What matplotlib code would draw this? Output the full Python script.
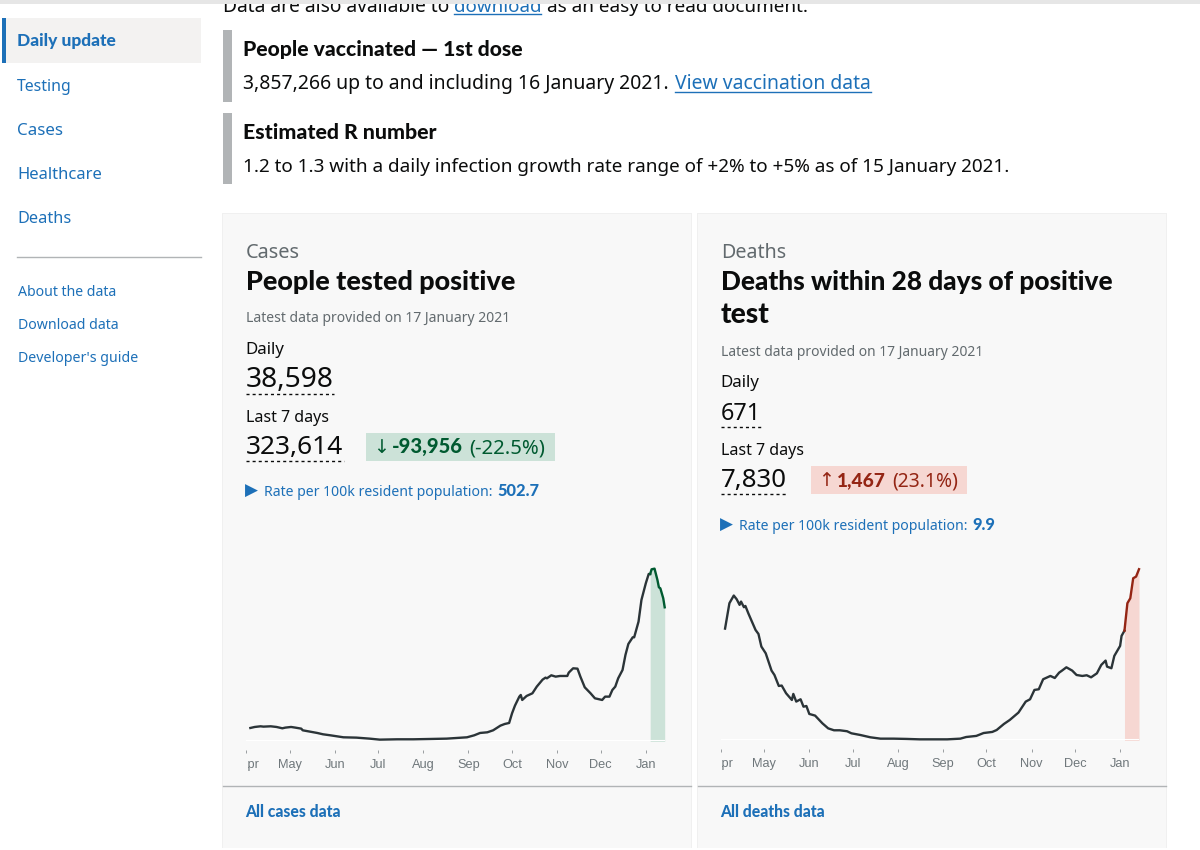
import matplotlib
matplotlib.use("Agg")
import matplotlib.pyplot as plt
from matplotlib.patches import Rectangle
from matplotlib.transforms import Bbox, ScaledTranslation

# --- data ---
month_labels = ["Apr", "May", "Jun", "Jul", "Aug", "Sep", "Oct", "Nov", "Dec", "Jan"]
month_days = [0, 30, 61, 91, 122, 153, 183, 214, 244, 275]

cases_days = [3, 6, 10, 12, 17, 21, 25, 27, 31, 34, 38, 39, 44, 49, 53, 58, 67, 76, 85, 92,
              104, 115, 127, 138, 152, 157, 161, 166, 170, 175, 178, 181, 183, 185, 188, 189,
              190, 193, 197, 200, 204, 206, 207, 210, 213, 216, 221, 222, 225, 228, 230, 233,
              237, 240, 243, 245, 247, 250, 252, 254, 256, 259, 261, 263, 266, 267, 270, 272,
              275, 277, 278, 279, 281, 283, 284, 285, 287, 288]
cases_vals = [4600, 4945, 5175, 5060, 5175, 4945, 4485, 4715, 4945, 4715, 4370, 3795, 3335, 2875,
              2415, 2070, 1380, 1265, 920, 575, 690, 690, 805, 920, 1380, 2070, 2875, 3105, 3795,
              5405, 5980, 6325, 9660, 12305, 15410, 15985, 14260, 15640, 16560, 18860, 21275,
              21965, 21735, 22770, 22310, 22540, 22540, 23690, 25185, 25070, 22310, 18630, 16560,
              14835, 14490, 14260, 15410, 15410, 17710, 18860, 21735, 24610, 29785, 33580, 35880,
              35880, 41285, 48760, 54510, 57730, 57730, 59340, 59570, 55660, 53130, 52785, 49335,
              46230]

deaths_days = [3, 6, 9, 11, 13, 14, 16, 17, 19, 21, 24, 26, 28, 31, 35, 37, 40, 42, 45, 49, 50,
               52, 55, 57, 59, 61, 65, 70, 74, 78, 82, 87, 90, 96, 103, 110, 119, 128, 137, 146,
               156, 165, 169, 176, 181, 187, 190, 195, 199, 205, 210, 213, 216, 219, 222, 227,
               230, 233, 235, 238, 242, 245, 249, 252, 255, 259, 262, 265, 266, 269, 271, 275,
               276, 278, 280, 282, 284, 286, 288]
deaths_vals = [814, 999, 1055, 1028, 987, 1011, 970, 979, 926, 877, 804, 775, 683, 634, 508, 476,
               396, 399, 343, 294, 338, 282, 299, 245, 250, 192, 180, 124, 87, 73, 73, 66, 51, 39,
               22, 12, 12, 10, 7, 7, 7, 12, 24, 32, 53, 61, 75, 119, 148, 202, 282, 299, 367, 372,
               445, 469, 454, 493, 508, 532, 508, 476, 469, 474, 459, 488, 549, 581, 537, 525, 615,
               688, 761, 799, 999, 1035, 1181, 1193, 1247]

LAST_WEEK = 278

INK = "#0b0c0c"
BLUE = "#1d70b8"
MUTED = "#626a6e"
LINE = "#2b3438"
FONT = "Noto Sans"
BOLD_FONT = "Lato"

fig = plt.figure(figsize=(12, 8.5), dpi=100, facecolor="white")

# whole page in pixel coordinates for the web page furniture
page = fig.add_axes([0, 0, 1, 1])
page.set_xlim(0, 1200)
page.set_ylim(850, 0)
page.axis("off")


def label(x, y, s, px, end=None, color=INK, bold=False, zorder=3):
    t = page.text(x, y, s, fontsize=px * 0.72, color=color,
                  family=[BOLD_FONT if bold else FONT, "DejaVu Sans"],
                  fontweight="black" if bold else "normal", va="baseline", ha="left", zorder=zorder)
    if end is not None:
        # squeeze the size so the string ends where it does on the page
        w = t.get_window_extent(fig.canvas.get_renderer()).width
        t.set_fontsize(px * 0.72 * (end - x) / w)
    return t


def box(x0, y0, x1, y1, color, zorder=1):
    page.add_patch(Rectangle((x0, y0), x1 - x0, y1 - y0, facecolor=color, edgecolor="none", zorder=zorder))


def dashes(x0, x1, y):
    page.plot([x0, x1], [y, y], color=INK, lw=1, dashes=(2.2, 2.2), dash_capstyle="butt", zorder=3)


# sidebar
box(2, 18, 201, 63, "#f3f2f1")
box(2, 18, 6, 63, BLUE, zorder=2)
label(17, 46, "Daily update", 17, 116, BLUE, True)
label(17, 91, "Testing", 17, 72, BLUE)
label(17, 135, "Cases", 17, 63, BLUE)
label(17, 179, "Healthcare", 17, 102, BLUE)
label(17, 223, "Deaths", 17, 71, BLUE)
page.plot([17, 201], [257, 257], color="#b1b4b6", lw=1)
label(18, 296, "About the data", 15, 117, BLUE)
label(18, 329, "Download data", 15, 119, BLUE)
label(18, 362, "Developer's guide", 15, 138, BLUE)

# top of the main column, cut off by the browser edge
label(223, 12, "Data are also available to", 19, 450)
label(454, 12, "download", 19, 541, BLUE)
page.plot([454, 541], [14, 14], color=BLUE, lw=1)
label(547, 12, "as an easy to read document.", 19, 808)
box(0, 0, 1200, 3.5, "#e6e6e6", zorder=5)

box(223, 30, 232, 102, "#b1b4b6")
label(243, 56, "People vaccinated \u2014 1st dose", 20, 522, INK, True)
label(243, 89, "3,857,266 up to and including 16 January 2021.", 20, 670)
label(675, 89, "View vaccination data", 20, 871, BLUE)
page.plot([675, 871], [92, 92], color=BLUE, lw=1)
box(223, 113, 232, 184, "#b1b4b6")
label(243, 139, "Estimated R number", 20, 435, INK, True)
label(243, 172, "1.2 to 1.3 with a daily infection growth rate range of +2% to +5% as of 15 January 2021.", 20, 1012)

# cards
for x0, x1 in [(223, 691), (698, 1166)]:
    box(x0 - 1, 213, x1 + 1, 848, "#f0f0f0")
    box(x0, 214, x1, 848, "#f8f8f8", zorder=1.5)
    page.plot([x0, x1], [785.5, 785.5], color="#b1b4b6", lw=1, zorder=2)

# cases card
label(246, 258, "Cases", 20, 300, MUTED)
label(246, 290, "People tested positive", 26, 515, INK, True)
label(246, 322, "Latest data provided on 17 January 2021", 15, 511, MUTED)
label(245, 354, "Daily", 17, 284)
label(246, 387, "38,598", 29, 334)
dashes(246, 334, 394)
label(246, 422, "Last 7 days", 17, 329)
label(246, 454, "323,614", 29, 343)
dashes(246, 344, 461)
box(366, 433, 555, 461, "#cce2d8", zorder=2)
label(373, 453, "\u2193", 18, 389, "#005a30")
label(392, 453, "-93,956", 18, 463, "#005a30", True)
label(469, 453, "(-22.5%)", 18, 545, "#005a30")
label(245, 496, "\u25b6", 11, 258, BLUE)
label(264, 496, "Rate per 100k resident population:", 15, 493, BLUE)
label(497, 496, "502.7", 15, 539, BLUE, True)
label(245, 817, "All cases data", 15, 341, BLUE, True)

# deaths card
label(721, 258, "Deaths", 20, 786, MUTED)
label(721, 290, "Deaths within 28 days of positive", 26, 1113, INK, True)
label(721, 323, "test", 26, 770, INK, True)
label(721, 356, "Latest data provided on 17 January 2021", 15, 985, MUTED)
label(720, 387, "Daily", 17, 759)
label(721, 420, "671", 29, 761)
dashes(721, 762, 427)
label(721, 455, "Last 7 days", 17, 804)
label(721, 487, "7,830", 29, 787)
dashes(721, 788, 494)
box(811, 466, 967, 494, "#f6d7d2", zorder=2)
label(818, 486, "\u2191", 18, 834, "#942514")
label(837, 486, "1,467", 18, 886, "#942514", True)
label(892, 486, "(23.1%)", 18, 958, "#942514")
label(720, 530, "\u25b6", 11, 733, BLUE)
label(739, 530, "Rate per 100k resident population:", 15, 968, BLUE)
label(972, 530, "9.9", 15, 995, BLUE, True)
label(720, 817, "All deaths data", 15, 825, BLUE, True)


def sparkline(left, right, base, top, ymax, days, vals, accent, pale):
    ax = fig.add_axes([left / 1200, 1 - base / 850, (right - left) / 1200, (base - top) / 850])
    ax.patch.set_alpha(0)
    ax.set_xlim(0, 288)
    ax.set_ylim(0, ymax)

    # split the series at the start of the last 7 days
    i = days.index(LAST_WEEK)
    ax.fill_between(days[i:], vals[i:], 0, color=pale, lw=0)
    ax.plot(days[:i + 1], vals[:i + 1], color=LINE, lw=1.7, clip_on=False)
    ax.plot(days[i:], vals[i:], color=accent, lw=1.7, clip_on=False)
    ax.axhline(0, color="white", lw=1.5, zorder=1)

    for s in ["top", "left", "right"]:
        ax.spines[s].set_visible(False)
    ax.spines["bottom"].set_position(("outward", 6.5))
    ax.spines["bottom"].set_visible(False)
    ax.set_yticks([])
    ax.set_xticks(month_days)
    ax.set_xticklabels(month_labels, fontsize=9.2, color="#6f777b", family="Liberation Sans")
    ax.tick_params(axis="x", length=2, width=0.7, color="#9a9ea1", pad=4.5)

    # the first label is cut off at the left edge of the chart
    clip = Bbox([[left + 1.5, 0], [1200, 850]])
    for t in ax.get_xticklabels():
        t.set_clip_box(clip)
        t.set_clip_on(True)
    first = ax.get_xticklabels()[0]
    first.set_transform(first.get_transform() + ScaledTranslation(3.5 / 100, 0, fig.dpi_scale_trans))
    return ax


sparkline(246, 664.7, 741.3, 560, 62550, cases_days, cases_vals, "#005a30", "#cce2d8")
sparkline(720.7, 1139, 740.3, 560, 1314, deaths_days, deaths_vals, "#942514", "#f6d7d2")

fig.savefig("out.png", dpi=100)
